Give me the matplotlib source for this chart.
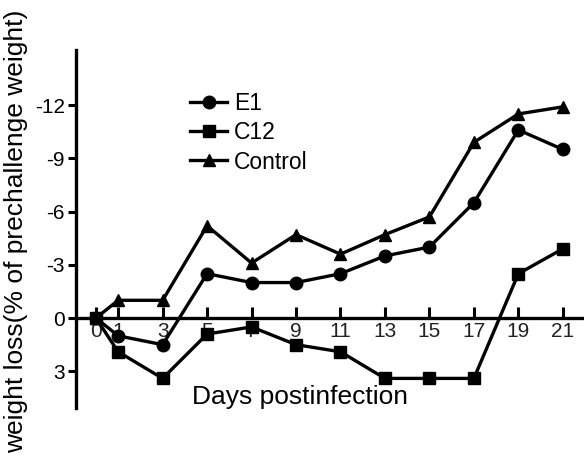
"""
Weight loss after challenge, by day postinfection
"""

import matplotlib.pyplot as plt

plt.rcParams['font.family'] = ['Liberation Sans', 'DejaVu Sans']

days = [0, 1, 3, 5, 7, 9, 11, 13, 15, 17, 19, 21]

e1 = [0, 1.0, 1.5, -2.5, -2.0, -2.0, -2.5, -3.5, -4.0, -6.5, -10.6, -9.5]
c12 = [0, 1.9, 3.4, 0.9, 0.5, 1.5, 1.9, 3.4, 3.4, 3.4, -2.5, -3.9]
control = [0, -1.0, -1.0, -5.2, -3.1, -4.7, -3.6, -4.7, -5.7, -9.9, -11.5, -11.9]

x_ticks = [0, 1, 3, 5, 7, 9, 11, 13, 15, 17, 19, 21]
y_ticks = [-12, -9, -6, -3, 0, 3]

fig = plt.figure(figsize=(5.84, 4.59), dpi=100)
ax = fig.add_axes([0.130, 0.111, 0.868, 0.780])

style = dict(color='black', lw=2.4, markersize=9)
ax.plot(days, e1, marker='o', label='E1', **style)
ax.plot(days, c12, marker='s', label='C12', **style)
ax.plot(days, control, marker='^', label='Control', **style)

ax.set_xlim(-0.9, 21.9)
ax.set_ylim(5.07, -15.1)   # inverted: loss goes up

# x axis runs through zero
ax.spines['bottom'].set_position(('data', 0))
ax.spines['right'].set_visible(False)
ax.spines['top'].set_visible(False)
for s in ['left', 'bottom']:
    ax.spines[s].set_linewidth(2.4)

ax.set_xticks(x_ticks)
ax.set_yticks(y_ticks)
ax.set_yticklabels([str(v) for v in y_ticks])
ax.tick_params(axis='x', direction='in', length=8, width=2.2, labelsize=15, pad=3)
ax.tick_params(axis='y', direction='out', length=6, width=2.2, labelsize=15, pad=2)
for lbl in ax.get_xticklabels():
    lbl.set_color('#222222')

ax.text(9.2, 4.45, 'Days postinfection', fontsize=19, ha='center', va='center')
ax.set_ylabel('weight loss(% of prechallenge weight)', fontsize=19, labelpad=2)
ax.yaxis.set_label_coords(-0.095, 0.495)

ax.legend(loc='upper left', bbox_to_anchor=(0.185, 0.94), frameon=False,
          fontsize=16.5, handlelength=1.6, labelspacing=0.27, handletextpad=0.3)

plt.savefig('out.png', dpi=100)
